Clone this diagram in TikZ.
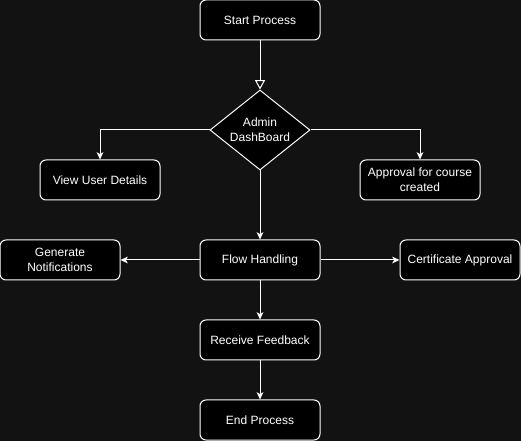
\documentclass[tikz,border=0pt]{standalone}
\usepackage{fontspec}
\setmainfont{Liberation Sans}
\usetikzlibrary{shapes.geometric,arrows.meta}
\definecolor{bgdark}{HTML}{121212}

\begin{document}
\begin{tikzpicture}[x=0.75pt,y=-0.75pt,
  box/.style={draw=white, fill=black, rounded corners=4.5pt, line width=0.75pt,
    minimum width=90pt, minimum height=30pt, inner sep=1pt, align=center,
    text=white, font=\fontsize{9}{11}\selectfont},
  decision/.style={diamond, draw=white, fill=black, line width=0.75pt,
    minimum width=75pt, minimum height=60pt, inner sep=0pt, aspect=1.25,
    align=center, text=white, font=\fontsize{9}{11}\selectfont},
  flowline/.style={draw=white, line width=0.75pt,
    -{Stealth[length=5.5pt,width=5pt,inset=1.5pt]}},
  openline/.style={draw=white, line width=0.75pt,
    -{Triangle[open,length=7pt,width=7.5pt]}}]
% background
\fill[bgdark] (0,0) rectangle (521,441);
\useasboundingbox (0,0) rectangle (521,441);

% main column
\node[box] (start) at (260,20) {Start Process};
\node[decision] (admin) at (260,130) {Admin\\DashBoard};
\node[box] (flow) at (260,260) {Flow Handling};
\node[box] (feedback) at (260,340) {Receive Feedback};
\node[box] (finish) at (260,420) {End Process};

% side branches
\node[box] (users) at (100,180) {View User Details};
\node[box] (course) at (420,180) {Approval for course\\created};
\node[box] (notify) at (60,260) {Generate\\Notifications};
\node[box] (cert) at (460,260) {Certificate Approval};

% connectors
\draw[openline] (start) -- (admin);
\draw[flowline] (admin.west) -| (users);
\draw[flowline] (admin.east) -| (course);
\draw[flowline] (admin) -- (flow);
\draw[flowline] (flow) -- (notify);
\draw[flowline] (flow) -- (cert);
\draw[flowline] (flow) -- (feedback);
\draw[flowline] (feedback) -- (finish);
\end{tikzpicture}
\end{document}
